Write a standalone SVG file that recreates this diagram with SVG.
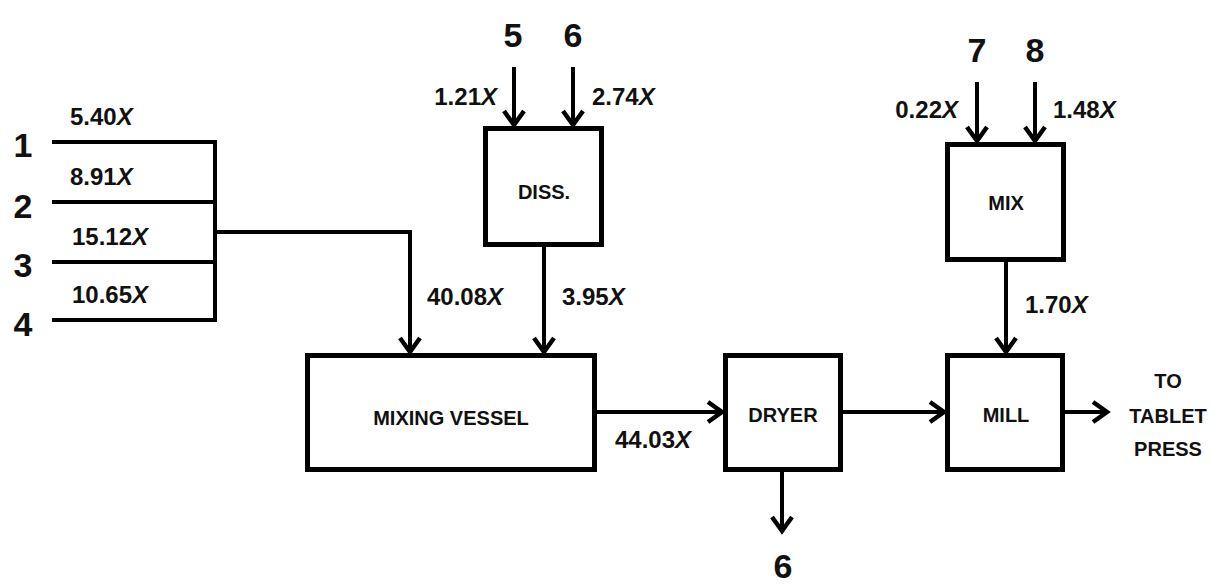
<svg xmlns="http://www.w3.org/2000/svg" width="1211" height="584" viewBox="0 0 1211 584">
<defs>
<marker id="ah" markerUnits="userSpaceOnUse" markerWidth="30" markerHeight="30" viewBox="-20 -15 24 30" refX="0" refY="0" orient="auto">
<path d="M-14,-10 L0,0 L-14,10" fill="none" stroke="#000" stroke-width="4.5" stroke-linejoin="miter"/>
</marker>
</defs>
<style>
.box{fill:#fff;stroke:#000;stroke-width:5}
.ln{fill:none;stroke:#000;stroke-width:4}
.arr{fill:none;stroke:#000;stroke-width:4;marker-end:url(#ah)}
.lbl{font-family:"Liberation Sans",Arial,sans-serif;font-weight:bold;font-size:24px;fill:#111}
.big{font-family:"Liberation Sans",Arial,sans-serif;font-weight:bold;font-size:34px;fill:#111;text-anchor:middle}
.nm{font-family:"Liberation Sans",Arial,sans-serif;font-weight:bold;font-size:20px;fill:#111;text-anchor:middle}
.it{font-style:italic}
</style>
<g id="connectors">
<path class="ln" d="M52,142 H215 V320 H52 M52,202 H215 M52,262 H215"/>
<path class="arr" d="M215,232 H410 V352"/>
<path class="arr" d="M514,67 V125"/>
<path class="arr" d="M573,67 V125"/>
<path class="arr" d="M544,247 V352"/>
<path class="arr" d="M977,82 V141"/>
<path class="arr" d="M1035,82 V141"/>
<path class="arr" d="M1006,262 V352"/>
<path class="arr" d="M597,412 H722"/>
<path class="arr" d="M843,412 H944"/>
<path class="arr" d="M1065,412 H1107"/>
<path class="arr" d="M782,472 V531"/>
</g>
<g id="inputs">
<text class="big" x="23" y="157">1</text>
<text class="big" x="23" y="218">2</text>
<text class="big" x="23" y="277">3</text>
<text class="big" x="23" y="336">4</text>
<text class="lbl" x="70" y="125">5.40<tspan class="it">X</tspan></text>
<text class="lbl" x="70" y="185">8.91<tspan class="it">X</tspan></text>
<text class="lbl" x="72" y="245">15.12<tspan class="it">X</tspan></text>
<text class="lbl" x="72" y="303">10.65<tspan class="it">X</tspan></text>
<text class="big" x="513" y="47">5</text>
<text class="big" x="573" y="47">6</text>
<text class="lbl" x="497" y="105" text-anchor="end">1.21<tspan class="it">X</tspan></text>
<text class="lbl" x="592" y="105">2.74<tspan class="it">X</tspan></text>
<text class="big" x="977" y="62">7</text>
<text class="big" x="1035" y="62">8</text>
<text class="lbl" x="958" y="118" text-anchor="end">0.22<tspan class="it">X</tspan></text>
<text class="lbl" x="1053" y="118">1.48<tspan class="it">X</tspan></text>
<text class="lbl" x="427" y="305">40.08<tspan class="it">X</tspan></text>
<text class="lbl" x="562" y="305">3.95<tspan class="it">X</tspan></text>
<text class="lbl" x="1025" y="313">1.70<tspan class="it">X</tspan></text>
<text class="lbl" x="615" y="448">44.03<tspan class="it">X</tspan></text>
<text class="big" x="783" y="578">6</text>
</g>
<g id="diss">
<rect class="box" x="485.5" y="128.5" width="116" height="116"/>
<text class="nm" x="544" y="199">DISS.</text>
</g>
<g id="mix">
<rect class="box" x="947.5" y="144.5" width="116" height="115"/>
<text class="nm" x="1006" y="210">MIX</text>
</g>
<g id="mixing-vessel">
<rect class="box" x="307.5" y="355.5" width="287" height="114"/>
<text class="nm" x="451" y="425">MIXING VESSEL</text>
</g>
<g id="dryer">
<rect class="box" x="725.5" y="355.5" width="115" height="114"/>
<text class="nm" x="783" y="422">DRYER</text>
</g>
<g id="mill">
<rect class="box" x="947.5" y="355.5" width="115" height="114"/>
<text class="nm" x="1006" y="422">MILL</text>
</g>
<g id="to-tablet-press">
<text class="nm" x="1168" y="388">TO</text>
<text class="nm" x="1168" y="423">TABLET</text>
<text class="nm" x="1168" y="456">PRESS</text>
</g>
</svg>
